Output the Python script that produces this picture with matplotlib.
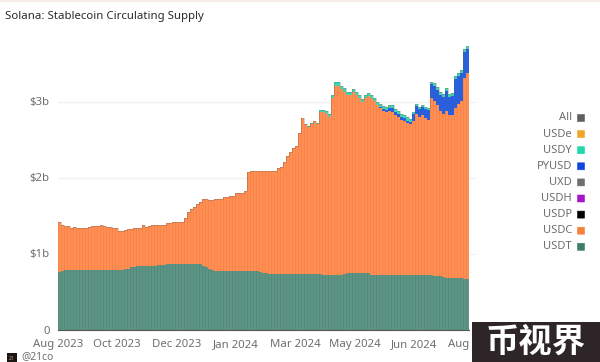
import numpy as np
import matplotlib
matplotlib.use('Agg')
import matplotlib.pyplot as plt
from matplotlib.patches import Rectangle, FancyBboxPatch

# values in $b, one bar every few days
usdt = [0.76, 0.77, 0.78, 0.78, 0.78, 0.78, 0.78, 0.78, 0.78, 0.78,
        0.78, 0.78, 0.78, 0.78, 0.78, 0.78, 0.78, 0.78, 0.78, 0.78,
        0.78, 0.78, 0.79, 0.80, 0.82, 0.82, 0.83, 0.83, 0.83, 0.83,
        0.84, 0.84, 0.84, 0.85, 0.85, 0.85, 0.86, 0.86, 0.86, 0.86,
        0.86, 0.86, 0.86, 0.86, 0.86, 0.86, 0.86, 0.86, 0.84, 0.82,
        0.80, 0.78, 0.77, 0.77, 0.77, 0.77, 0.77, 0.77, 0.77, 0.77,
        0.77, 0.77, 0.77, 0.77, 0.77, 0.77, 0.77, 0.76, 0.75, 0.74,
        0.73, 0.73, 0.73, 0.73, 0.73, 0.73, 0.73, 0.73, 0.73, 0.73,
        0.73, 0.73, 0.73, 0.73, 0.73, 0.73, 0.73, 0.73, 0.72, 0.72,
        0.72, 0.72, 0.72, 0.72, 0.72, 0.73, 0.74, 0.74, 0.74, 0.74,
        0.74, 0.74, 0.74, 0.74, 0.72, 0.72, 0.72, 0.72, 0.72, 0.72,
        0.72, 0.72, 0.72, 0.72, 0.72, 0.72, 0.72, 0.72, 0.72, 0.72,
        0.72, 0.72, 0.72, 0.72, 0.72, 0.71, 0.71, 0.70, 0.69, 0.68,
        0.68, 0.68, 0.68, 0.68, 0.68, 0.67, 0.67]
usdt_usdc = [1.41, 1.37, 1.36, 1.36, 1.34, 1.35, 1.34, 1.34, 1.34, 1.34,
             1.35, 1.36, 1.36, 1.36, 1.37, 1.36, 1.35, 1.35, 1.34, 1.33,
             1.30, 1.29, 1.31, 1.32, 1.32, 1.33, 1.33, 1.34, 1.37, 1.35,
             1.36, 1.37, 1.37, 1.37, 1.38, 1.38, 1.40, 1.40, 1.41, 1.41,
             1.41, 1.42, 1.47, 1.54, 1.58, 1.61, 1.65, 1.68, 1.72, 1.72,
             1.71, 1.71, 1.72, 1.72, 1.72, 1.74, 1.75, 1.76, 1.76, 1.79,
             1.79, 1.80, 1.82, 2.07, 2.08, 2.09, 2.09, 2.09, 2.08, 2.08,
             2.08, 2.09, 2.09, 2.12, 2.14, 2.20, 2.28, 2.34, 2.39, 2.42,
             2.58, 2.78, 2.70, 2.67, 2.71, 2.74, 2.71, 2.86, 2.86, 2.84,
             2.80, 3.04, 3.21, 3.21, 3.16, 3.13, 3.09, 3.09, 3.13, 3.09,
             3.04, 2.99, 3.05, 3.07, 3.05, 3.01, 2.95, 2.92, 2.88, 2.86,
             2.87, 2.86, 2.82, 2.79, 2.76, 2.75, 2.72, 2.70, 2.75, 2.84,
             2.80, 2.82, 2.78, 2.76, 3.05, 3.01, 2.95, 2.88, 2.84, 2.88,
             2.82, 2.82, 2.91, 2.97, 3.01, 3.31, 3.37]
pyusd = [0] * 107 + [0.01, 0.02, 0.03, 0.05, 0.05, 0.04, 0.04, 0.04, 0.03, 0.03,
                     0.03, 0.08, 0.10, 0.10, 0.11, 0.12, 0.13, 0.18, 0.20, 0.20,
                     0.20, 0.22, 0.26, 0.24, 0.25, 0.38, 0.36, 0.36, 0.34, 0.32]
usdy = [0] * 80 + [0.005, 0.005, 0.005, 0.005, 0.01, 0.01, 0.01, 0.03, 0.03, 0.04,
                   0.04, 0.04, 0.05, 0.05, 0.05, 0.05, 0.04, 0.04, 0.04, 0.04,
                   0.04, 0.04, 0.04, 0.04, 0.04, 0.04, 0.04, 0.04, 0.04, 0.04,
                   0.04, 0.04, 0.04, 0.04, 0.04, 0.04, 0.04, 0.04, 0.03, 0.03,
                   0.03, 0.03, 0.03, 0.03, 0.03, 0.04, 0.04, 0.04, 0.04, 0.04,
                   0.04, 0.04, 0.04, 0.04, 0.04, 0.04, 0.04]

tick_labels = ['Aug 2023', 'Oct 2023', 'Dec 2023', 'Jan 2024', 'Mar 2024', 'May 2024', 'Jun 2024', 'Aug 2024']
legend_names = ['All', 'USDe', 'USDY', 'PYUSD', 'UXD', 'USDH', 'USDP', 'USDC', 'USDT']
legend_colors = ['#5f5f5f', '#f0a52c', '#1fd8ab', '#0f46e0', '#6f6f6f', '#a416c8', '#000000', '#f5813c', '#3d7d6c']

W, H = 600, 362
plt.rcParams['font.family'] = ['Noto Sans', 'DejaVu Sans']

fig = plt.figure(figsize=(W / 100, H / 100), dpi=100)
# axes box in pixels: left 58, right 476 (bars stop at 469), baseline 329.5, top 30
ax = fig.add_axes([58 / W, 1 - 329.5 / H, 418 / W, 299.5 / H])

usdt = np.array(usdt)
usdc = np.array(usdt_usdc) - usdt
pyusd = np.array(pyusd)
usdy = np.array(usdy)
x = np.arange(len(usdt))
edges = np.arange(len(usdt) + 1)

# solid stacks first, so nothing white shows between the bars
c1 = usdt
c2 = c1 + usdc
c3 = c2 + pyusd
c4 = c3 + usdy
ax.stairs(c1, edges, baseline=0, fill=True, color='#5d9485', zorder=2)
ax.stairs(c2, edges, baseline=c1, fill=True, color='#ff8e54', zorder=2)
ax.stairs(c3, edges, baseline=c2, fill=True, color='#2a5fdc', zorder=2)
ax.stairs(c4, edges, baseline=c3, fill=True, color='#45d3ae', zorder=2)
# faint darker bar stripes on top
ax.bar(x, usdt, width=0.3, align='edge', color='#538b7b', linewidth=0, zorder=3)
ax.bar(x, usdc, width=0.3, bottom=usdt, align='edge', color='#f98549', linewidth=0, zorder=3)
# All line on top
ax.step(x, c4, where='post', color='#5f5f5f', lw=0.5, alpha=0.4, zorder=4)

ax.set_yticks([0, 1, 2, 3])
ax.set_yticklabels(['0', '$1b', '$2b', '$3b'])
ax.set_xticks(np.arange(len(tick_labels)) * 19.77)
ax.set_xticklabels(tick_labels)
# set_xticks widens the limits, so the limits come after it
ax.set_xlim(0, 418 / 3)
ax.set_ylim(0, 299.5 / 76)
ax.tick_params(length=0, labelsize=8.2, labelcolor='#6e6e6e', pad=7)
ax.tick_params(axis='y', pad=6)
for s in ['top', 'right', 'left']:
    ax.spines[s].set_visible(False)
ax.spines['bottom'].set_color('#555555')
ax.spines['bottom'].set_linewidth(0.8)
ax.spines['bottom'].set_zorder(5)
ax.spines['bottom'].set_bounds(0, len(usdt))
ax.set_axisbelow(True)
ax.yaxis.grid(True, color='#f1f1f1', lw=1)
ax.patch.set_alpha(0)

fig.text(5 / W, 1 - 17 / H, 'Solana: Stablecoin Circulating Supply', fontsize=8.2, fontweight='bold',
         color='#2a2a2a', va='center', ha='left')

# legend on the right, built by hand because the swatches sit after the names
for i, (name, col) in enumerate(zip(legend_names, legend_colors)):
    yp = 118 + i * 16.1
    fig.text(572 / W, 1 - yp / H, name, fontsize=8, color='#6e6e6e', ha='right', va='center')
    fig.add_artist(FancyBboxPatch((577.5 / W, 1 - (yp + 3.5) / H), 7 / W, 7 / H,
                                  boxstyle='round,pad=0', transform=fig.transFigure,
                                  facecolor=col, edgecolor=col, lw=0.4))

# footer
fig.add_artist(Rectangle((7 / W, 0), 10 / W, 9 / H, transform=fig.transFigure, facecolor='#1c1614', edgecolor='none'))
fig.text(12 / W, 1 - 358 / H, '21', fontsize=3.5, color='#c9a58a', ha='center', va='center')
fig.text(21 / W, 1 - 357 / H, '@21co', fontsize=7.4, color='#6e6e6e', ha='left', va='center')

# watermark box
fig.add_artist(Rectangle((472 / W, 0), 128 / W, 40 / H, transform=fig.transFigure,
                         facecolor='#2e2528', edgecolor='none', zorder=10))
fig.text(536 / W, 1 - 342 / H, '币视界', fontsize=24, color='white', fontweight='black', ha='center', va='center',
         family=['Noto Sans CJK SC', 'DejaVu Sans'], zorder=11)

# faint band along the top edge
fig.add_artist(Rectangle((0, 1 - 2 / H), 1, 2 / H, transform=fig.transFigure, facecolor='#f6ece8', edgecolor='none'))

fig.savefig('out.png', dpi=100)
